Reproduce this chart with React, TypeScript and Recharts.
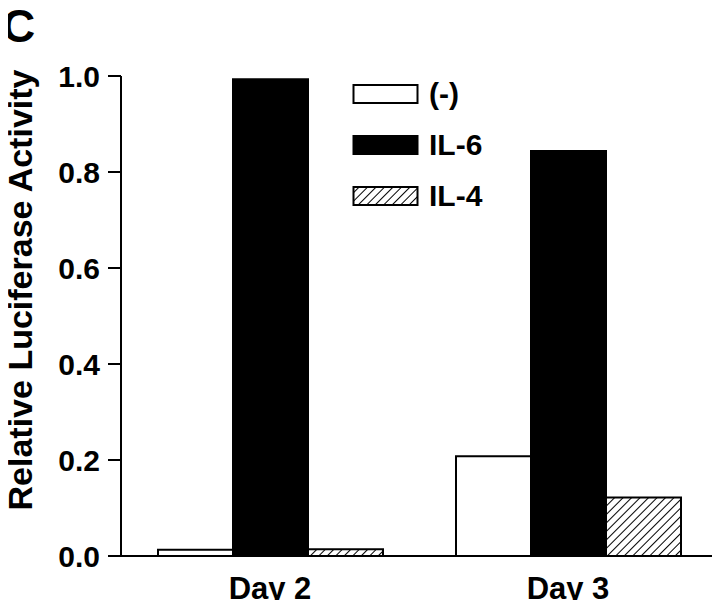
import {
  BarChart,
  Bar,
  XAxis,
  YAxis,
  Legend,
} from "recharts";

const categories = ["Day 2", "Day 3"];
const negValues = [0.013, 0.208];
const il6Values = [0.993, 0.844];
const il4Values = [0.014, 0.122];
const yTicks = [0, 0.2, 0.4, 0.6, 0.8, 1.0];

const FONT = '"Liberation Sans", Arial, Helvetica, sans-serif';

const SERIES = [
  { key: "neg", name: "(-)", fill: "#ffffff" },
  { key: "il6", name: "IL-6", fill: "#000000" },
  { key: "il4", name: "IL-4", fill: "url(#hatch)" },
];

const data = categories.map((day, i) => ({
  day,
  neg: negValues[i],
  il6: il6Values[i],
  il4: il4Values[i],
}));

function renderLegend() {
  return (
    <div style={{ fontFamily: FONT, fontWeight: 700, fontSize: 30, color: "#000" }}>
      {SERIES.map((s) => (
        <div
          key={s.key}
          style={{ display: "flex", alignItems: "center", height: 51 }}
        >
          <svg width={68} height={22}>
            <defs>
              <pattern
                id="hatch-legend"
                patternUnits="userSpaceOnUse"
                width={6}
                height={6}
                patternTransform="rotate(45)"
              >
                <line x1={0} y1={0} x2={0} y2={6} stroke="#000" strokeWidth={2} />
              </pattern>
            </defs>
            <rect
              x={1.5}
              y={2}
              width={64}
              height={18}
              fill={s.key === "il4" ? "url(#hatch-legend)" : s.fill}
              stroke="#000"
              strokeWidth={2}
            />
          </svg>
          <span style={{ marginLeft: 9, lineHeight: "30px" }}>{s.name}</span>
        </div>
      ))}
    </div>
  );
}

export default function App() {
  return (
    <div style={{ position: "relative", margin: -8, width: 720, height: 608, background: "#fff" }}>
      <svg
        width={60}
        height={56}
        style={{ position: "absolute", left: 0, top: 0, zIndex: 2 }}
      >
        <text x={2} y={42} fontFamily={FONT} fontWeight={700} fontSize={46} fill="#000">
          C
        </text>
      </svg>
      <BarChart
        width={720}
        height={608}
        data={data}
        margin={{ top: 76, right: 3, bottom: 0, left: 0 }}
        barGap={0}
      >
        <defs>
          <pattern
            id="hatch"
            patternUnits="userSpaceOnUse"
            width={6}
            height={6}
            patternTransform="rotate(45)"
          >
            <line x1={0} y1={0} x2={0} y2={6} stroke="#000" strokeWidth={2} />
          </pattern>
        </defs>
        <XAxis
          dataKey="day"
          height={52}
          tickLine={false}
          tickSize={0}
          tickMargin={21}
          axisLine={{ stroke: "#000", strokeWidth: 2 }}
          tick={{ fill: "#000", fontSize: 31, fontWeight: 700, fontFamily: FONT }}
        />
        <YAxis
          width={121}
          domain={[0, 1]}
          ticks={yTicks}
          tickFormatter={(v: number) => v.toFixed(1)}
          tickSize={13}
          tickMargin={8}
          interval={0}
          axisLine={{ stroke: "#000", strokeWidth: 2 }}
          tickLine={{ stroke: "#000", strokeWidth: 2 }}
          tick={{ fill: "#000", fontSize: 30, fontWeight: 700, fontFamily: FONT }}
          label={{
            content: () => (
              <text
                x={32}
                y={290}
                transform="rotate(-90 32 290)"
                textAnchor="middle"
                fill="#000"
                fontSize={34}
                fontWeight={700}
                fontFamily={FONT}
              >
                Relative Luciferase Activity
              </text>
            ),
          }}
        />
        <Legend
          content={renderLegend}
          layout="vertical"
          align="center"
          verticalAlign="middle"
          wrapperStyle={{ left: 352, top: 68, width: 160, height: 160 }}
        />
        {SERIES.map((s) => (
          <Bar
            key={s.key}
            dataKey={s.key}
            name={s.name}
            fill={s.fill}
            stroke="#000"
            strokeWidth={2}
            barSize={75}
            isAnimationActive={false}
          />
        ))}
      </BarChart>
    </div>
  );
}
